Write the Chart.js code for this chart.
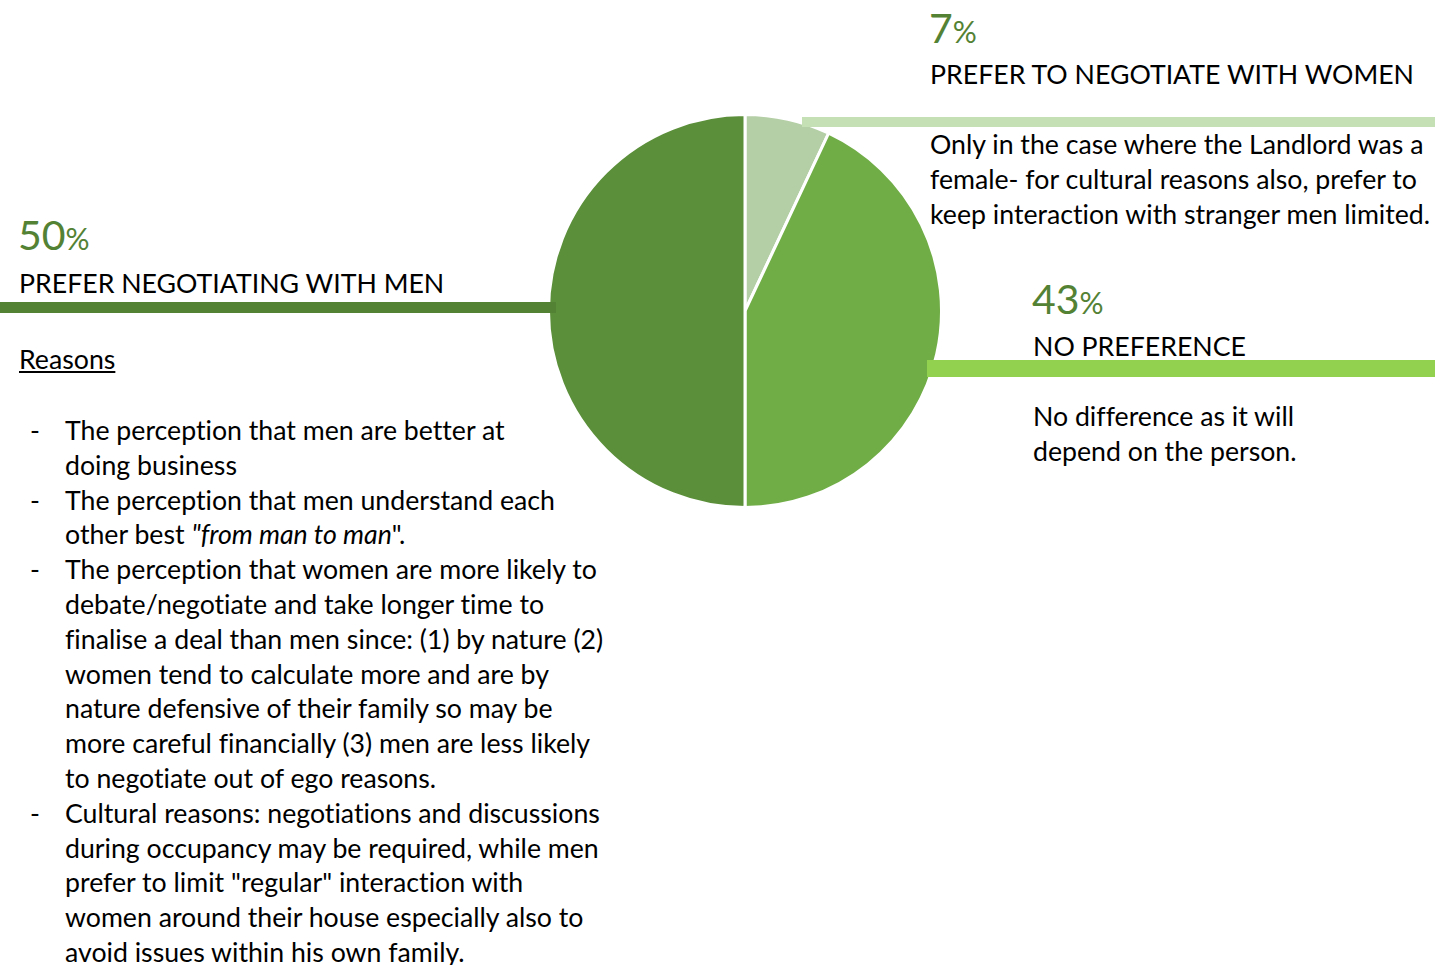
<!DOCTYPE html>
<html>
<head>
<meta charset="utf-8">
<script src="https://cdn.jsdelivr.net/npm/chart.js@4"></script>
<style>
  body { margin: 0; width: 1435px; height: 965px; overflow: hidden; background: #fff; font-family: Lato, sans-serif; color: #000; font-variant-ligatures: none; }
  .abs { position: absolute; white-space: nowrap; }
  .pct { color: #548235; font-size: 41px; line-height: 40px; }
  .pct small { font-size: 30px; }
  .head { font-size: 26.7px; line-height: 35px; }
  .body { font-size: 26.7px; line-height: 34.8px; }
  .bar { position: absolute; z-index: 2; }
  #wrap { position: absolute; left: 547px; top: 113px; width: 396px; height: 396px; z-index: 1; }
  ul { list-style: none; margin: 0; padding: 0; }
  li { position: relative; padding-left: 46px; }
  li::before { content: '-'; position: absolute; left: 11px; }
</style>
</head>
<body>
<div class="bar" style="left:0;top:302px;width:556px;height:11px;background:#548235"></div>
<div class="bar" style="left:802px;top:117px;width:633px;height:10px;background:#c5e0b4"></div>
<div class="bar" style="left:927px;top:360px;width:508px;height:17px;background:#92d050"></div>

<div id="wrap"><canvas id="pie" width="396" height="396"></canvas></div>

<div class="abs pct" id="p0" style="left:929px;top:8px"></div>
<div class="abs head" style="left:930px;top:57px">PREFER TO NEGOTIATE WITH WOMEN</div>
<div class="abs body" style="left:930px;top:127px">Only in the case where the Landlord was a<br>female- for cultural reasons also, prefer to<br>keep interaction with stranger men limited.</div>

<div class="abs pct" id="p1" style="left:1032px;top:279px"></div>
<div class="abs head" style="left:1033px;top:329px">NO PREFERENCE</div>
<div class="abs body" style="left:1033px;top:399px">No difference as it will<br>depend on the person.</div>

<div class="abs pct" id="p2" style="left:18px;top:215px"></div>
<div class="abs head" style="left:19px;top:266px">PREFER NEGOTIATING WITH MEN</div>
<div class="abs head" style="left:19px;top:342px;text-decoration:underline">Reasons</div>
<div class="abs body" style="left:19px;top:413px">
<ul>
<li>The perception that men are better at<br>doing business</li>
<li>The perception that men understand each<br>other best <i>"from man to man</i>".</li>
<li>The perception that women are more likely to<br>debate/negotiate and take longer time to<br>finalise a deal than men since: (1) by nature (2)<br>women tend to calculate more and are by<br>nature defensive of their family so may be<br>more careful financially (3) men are less likely<br>to negotiate out of ego reasons.</li>
<li>Cultural reasons: negotiations and discussions<br>during occupancy may be required, while men<br>prefer to limit "regular" interaction with<br>women around their house especially also to<br>avoid issues within his own family.</li>
</ul>
</div>

<script>
const categories = ['Prefer to negotiate with women', 'No preference', 'Prefer negotiating with men'];
const shares = [7, 43, 50];
const sliceColors = ['#b4cfa6', '#70ad47', '#5b8f39'];

shares.forEach((v, i) => {
    document.getElementById('p' + i).innerHTML = v + '<small>%</small>';
});

new Chart(document.getElementById('pie'), {
    type: 'pie',
    data: {
        labels: categories,
        datasets: [{
            data: shares,
            backgroundColor: sliceColors,
            borderColor: '#ffffff',
            borderWidth: 3
        }]
    },
    options: {
        responsive: false,
        animation: false,
        layout: { padding: 0 },
        plugins: {
            legend: { display: false },
            tooltip: { enabled: false }
        }
    }
});
</script>
</body>
</html>
